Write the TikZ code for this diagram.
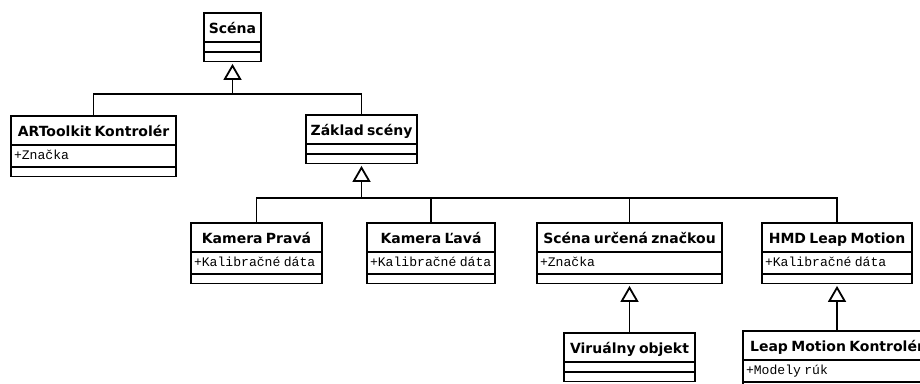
\documentclass[tikz,border=0pt]{standalone}
\usepackage{fontspec}
\newfontfamily\namefont{DejaVu Sans}
\newfontfamily\attrfont{Liberation Mono}
\usetikzlibrary{arrows.meta,shapes.multipart}

\newcommand{\umlname}[1]{\noindent\makebox[\linewidth]{\namefont\bfseries\fontsize{14}{16}\selectfont\rule[-7pt]{0pt}{27pt}#1}}
\newcommand{\umlattr}[1]{\noindent\mbox{\attrfont\fontsize{13.1}{16}\selectfont\rule[-6pt]{0pt}{20pt}#1}}
\newcommand{\umlempty}{\noindent\rule{0pt}{8pt}}

\begin{document}
\begin{tikzpicture}[x=1pt,y=-1pt]
\useasboundingbox (0,0) rectangle (920,383);

\begin{scope}[every node/.style={draw,line width=1.8pt,fill=white,
rectangle split,rectangle split parts=3,anchor=north west,
inner xsep=3pt,inner ysep=0pt,outer sep=0pt}]
	\node[text width=51pt] (scena) at (204,13) {\umlname{Scéna}\nodepart{two}\umlempty\nodepart{three}\umlempty};
	\node[text width=159pt] (artool) at (11,116) {\umlname{ARToolkit Kontrolér}\nodepart{two}\umlattr{+Značka}\nodepart{three}\umlempty};
	\node[text width=105pt] (zaklad) at (306,115) {\umlname{Základ scény}\nodepart{two}\umlempty\nodepart{three}\umlempty};
	\node[text width=125pt] (kpr) at (191,223) {\umlname{Kamera Pravá}\nodepart{two}\umlattr{+Kalibračné dáta}\nodepart{three}\umlempty};
	\node[text width=122pt] (klv) at (367,223) {\umlname{Kamera Ľavá}\nodepart{two}\umlattr{+Kalibračné dáta}\nodepart{three}\umlempty};
	\node[text width=179pt] (szn) at (537,223) {\umlname{Scéna určená značkou}\nodepart{two}\umlattr{+Značka}\nodepart{three}\umlempty};
	\node[text width=144pt] (hmd) at (762,223) {\umlname{HMD Leap Motion}\nodepart{two}\umlattr{+Kalibračné dáta}\nodepart{three}\umlempty};
	\node[text width=125pt] (virt) at (564,333) {\umlname{Viruálny objekt}\nodepart{two}\umlempty\nodepart{three}\umlempty};
	\node[text width=182pt] (leap) at (743,331) {\umlname{Leap Motion Kontrolér}\nodepart{two}\umlattr{+Modely rúk}\nodepart{three}\umlempty};
\end{scope}

\begin{scope}[line width=1.8pt,
>={Triangle[open,length=16pt,width=18pt]},
every path/.style={shorten >=2.5pt}]
	\coordinate (j1) at (scena.south |- 0,94);
	\coordinate (j2) at (zaklad.south |- 0,198);
	\draw[shorten >=0pt] (artool.north) |- (j1) -| (zaklad.north);
	\draw[->] (j1) -- (scena.south);
	\draw[shorten >=0pt] (kpr.north) |- (j2) -| (hmd.north);
	\draw[shorten >=0pt] (klv.north) -- (klv.north |- j2);
	\draw[shorten >=0pt] (szn.north) -- (szn.north |- j2);
	\draw[->] (j2) -- (zaklad.south);
	\draw[->] (virt.north) -- (szn.south);
	\draw[->] (leap.north) -- (hmd.south);
\end{scope}

\end{tikzpicture}
\end{document}
